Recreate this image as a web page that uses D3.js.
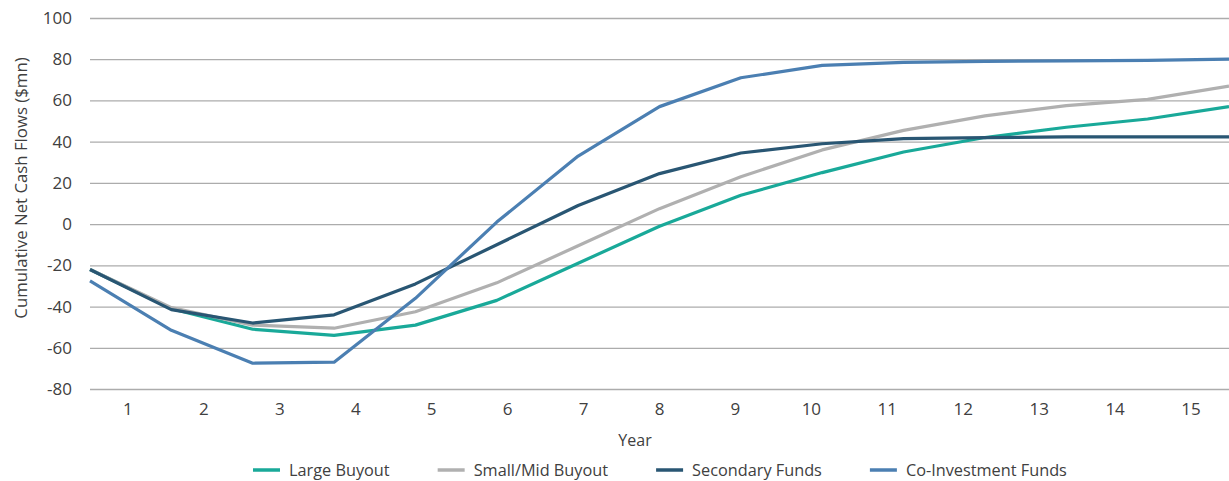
<!DOCTYPE html>
<html>
<head>
<meta charset="utf-8">
<script src="https://cdn.jsdelivr.net/npm/d3@7"></script>
<style>
  body { margin: 0; background: #fff; }
  text { font-family: "Open Sans", sans-serif; fill: #404040; }
</style>
</head>
<body>
<div id="graph"></div>
<script>
/*******************************************************************************
* Data
*******************************************************************************/
var years = ["1","2","3","4","5","6","7","8","9","10","11","12","13","14","15"];
var yTicks = [-80, -60, -40, -20, 0, 20, 40, 60, 80, 100];

var largeBuyout    = [-22, -41, -51, -54, -49, -37, -19, -1, 14, 25, 35, 42, 47, 51, 57];
var smallMidBuyout = [-22, -40.5, -49, -50.5, -42.5, -28.5, -10.5, 7.5, 23, 36, 45.5, 52.5, 57.5, 60.5, 67];
var secondaryFunds = [-22, -41.5, -48, -44, -29, -10, 9, 24.5, 34.5, 39, 41.5, 42, 42.3, 42.3, 42.3];
var coInvestment   = [-27.5, -51.5, -67.5, -67, -36, 1, 33, 57, 71, 77, 78.5, 79, 79.2, 79.4, 80];

var seriesNames = ["Large Buyout", "Small/Mid Buyout", "Secondary Funds", "Co-Investment Funds"];
var seriesValues = [largeBuyout, smallMidBuyout, secondaryFunds, coInvestment];
var colors = ["#19a999", "#b0b0b0", "#295673", "#4b7fb2"];

/*******************************************************************************
* Svg Container
*******************************************************************************/
var fullWidth = 1229, fullHeight = 481;
var margin = {left: 90, right: 0, top: 18, bottom: 92};

var svg = d3.select("#graph").append("svg")
  .attr("width", fullWidth)
  .attr("height", fullHeight);

var x = d3.scalePoint()
  .domain(years)
  .range([margin.left, fullWidth - margin.right]);

var xBand = d3.scaleBand()
  .domain(years)
  .range([margin.left, fullWidth - margin.right]);

var y = d3.scaleLinear()
  .domain([-80, 100])
  .range([fullHeight - margin.bottom, margin.top]);

/*******************************************************************************
* grid + axes
*******************************************************************************/
var yAxis = svg.append("g")
  .attr("transform", "translate(" + margin.left + ",0)")
  .call(d3.axisLeft(y)
    .tickValues(yTicks)
    .tickFormat(function(d) { return String(d); })
    .tickSize(-(fullWidth - margin.left - margin.right))
    .tickPadding(18));
yAxis.select(".domain").remove();
yAxis.selectAll(".tick line").attr("stroke", "#acacac").attr("stroke-width", 1.3);
yAxis.selectAll(".tick text").style("font-size", "17px").attr("fill", "#404040");

var xAxis = svg.append("g")
  .attr("transform", "translate(0," + (fullHeight - margin.bottom) + ")")
  .call(d3.axisBottom(xBand).tickSize(0).tickPadding(14));
xAxis.select(".domain").remove();
xAxis.selectAll(".tick text").style("font-size", "17px").attr("fill", "#404040");

svg.append("text")
  .attr("x", 635)
  .attr("y", 446)
  .attr("text-anchor", "middle")
  .style("font-size", "16px")
  .text("Year");

svg.append("text")
  .attr("transform", "translate(27,188) rotate(-90)")
  .attr("text-anchor", "middle")
  .style("font-size", "16.8px")
  .text("Cumulative Net Cash Flows ($mn)");

/*******************************************************************************
* lines
*******************************************************************************/
var line = d3.line()
  .x(function(d, i) { return x(years[i]); })
  .y(function(d) { return y(d); });

svg.append("g").selectAll("path")
  .data(seriesValues)
  .enter()
  .append("path")
  .attr("d", line)
  .attr("fill", "none")
  .attr("stroke", function(d, i) { return colors[i]; })
  .attr("stroke-width", 3.2)
  .attr("stroke-linejoin", "round");

/*******************************************************************************
* legend
*******************************************************************************/
var legend = svg.append("g").attr("transform", "translate(253,470)");
var cursor = 0;
seriesNames.forEach(function(name, i) {
  var item = legend.append("g").attr("transform", "translate(" + cursor + ",0)");
  item.append("line")
    .attr("x1", 0).attr("x2", 27)
    .attr("y1", 0).attr("y2", 0)
    .attr("stroke", colors[i])
    .attr("stroke-width", 3.5);
  var t = item.append("text")
    .attr("x", 36)
    .attr("y", 6)
    .style("font-size", "16.3px")
    .text(name);
  cursor += 36 + t.node().getComputedTextLength() + 48;
});
</script>
</body>
</html>
